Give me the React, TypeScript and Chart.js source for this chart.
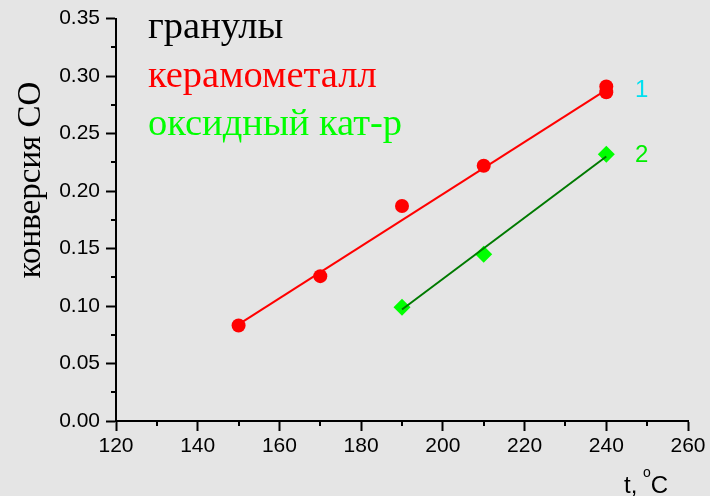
import React, { useEffect, useRef } from 'react';
import { Chart, registerables } from 'chart.js';
Chart.register(...registerables);

const xMajorTicks = [120, 140, 160, 180, 200, 220, 240, 260];
const xMinorTicks = [130, 150, 170, 190, 210, 230, 250];
const yMajorTicks = [0, 0.05, 0.1, 0.15, 0.2, 0.25, 0.3, 0.35];
const yMinorTicks = [0.025, 0.075, 0.125, 0.175, 0.225, 0.275, 0.325];

const ceramX = [150, 170, 190, 210, 240, 240];
const ceramY = [0.083, 0.126, 0.187, 0.222, 0.286, 0.291];
const oxideX = [190, 210, 240];
const oxideY = [0.099, 0.145, 0.232];
const ceramFitX = [150, 240];
const ceramFitY = [0.084, 0.288];
const oxideFitX = [190, 240];
const oxideFitY = [0.097, 0.23];

const legendLines = ['гранулы', 'керамометалл', 'оксидный кат-р'];
const legendColors = ['#000000', '#ff0000', '#00ff00'];
const yTitle = 'конверсия CO';
const seriesLabels = ['1', '2'];
const seriesLabelColors = ['#00e0f0', '#00ee00'];

const toPts = (xs: number[], ys: number[]) => xs.map((x, i) => ({ x, y: ys[i] }));

const SANS = '"Liberation Sans", Arial, sans-serif';
const SERIF = '"Liberation Serif", "Times New Roman", serif';

const decorPlugin = {
  id: 'decor',
  beforeDraw(chart: any) {
    const ctx = chart.ctx;
    ctx.save();
    ctx.fillStyle = '#e5e5e5';
    ctx.fillRect(0, 0, chart.width, chart.height);
    ctx.restore();
  },
  afterDraw(chart: any) {
    const ctx = chart.ctx;
    const xs = chart.scales.x;
    const ys = chart.scales.y;
    const area = chart.chartArea;
    ctx.save();
    ctx.strokeStyle = '#000';
    ctx.lineWidth = 2;
    ctx.beginPath();
    yMinorTicks.forEach((v) => {
      const py = Math.round(ys.getPixelForValue(v));
      ctx.moveTo(area.left - 5, py);
      ctx.lineTo(area.left, py);
    });
    xMinorTicks.forEach((v) => {
      const px = Math.round(xs.getPixelForValue(v));
      ctx.moveTo(px, area.bottom);
      ctx.lineTo(px, area.bottom + 5);
    });
    ctx.stroke();

    // legend-like texts
    ctx.font = `38.5px ${SERIF}`;
    ctx.textAlign = 'left';
    ctx.textBaseline = 'alphabetic';
    const baselines = [38, 87, 135];
    legendLines.forEach((t, i) => {
      ctx.fillStyle = legendColors[i];
      ctx.fillText(t, 148, baselines[i]);
    });

    // series labels
    ctx.font = `24px ${SANS}`;
    ctx.fillStyle = seriesLabelColors[0];
    ctx.fillText(seriesLabels[0], 635, 97);
    ctx.fillStyle = seriesLabelColors[1];
    ctx.fillText(seriesLabels[1], 635, 162);

    // y title
    ctx.save();
    ctx.translate(40, 180);
    ctx.rotate(-Math.PI / 2);
    ctx.font = `33px ${SERIF}`;
    ctx.fillStyle = '#000';
    ctx.textAlign = 'center';
    ctx.fillText(yTitle, 0, 0);
    ctx.restore();

    // x title "t, °C"
    ctx.fillStyle = '#000';
    ctx.font = `24px ${SANS}`;
    const p1 = 't, ';
    ctx.fillText(p1, 624, 493);
    const w1 = ctx.measureText(p1).width;
    ctx.font = `14px ${SANS}`;
    ctx.fillText('o', 624 + w1 - 1, 477);
    const w2 = ctx.measureText('o').width;
    ctx.font = `24px ${SANS}`;
    ctx.fillText('C', 624 + w1 + w2 - 1, 493);
    ctx.restore();
  },
};

export default function App() {
  const ref = useRef<HTMLCanvasElement>(null);
  useEffect(() => {
    if (!ref.current) return;
    const chart = new Chart(ref.current, {
      type: 'scatter',
      data: {
        datasets: [
          {
            data: toPts(oxideFitX, oxideFitY),
            showLine: true,
            borderColor: '#007a00',
            borderWidth: 2,
            pointRadius: 0,
            order: 0,
          },
          {
            data: toPts(ceramFitX, ceramFitY),
            showLine: true,
            borderColor: '#ff0000',
            borderWidth: 2,
            pointRadius: 0,
            order: 1,
          },
          {
            data: toPts(oxideX, oxideY),
            showLine: false,
            pointStyle: 'rectRot',
            pointRadius: 8.5,
            pointBackgroundColor: '#00ff00',
            pointBorderColor: '#00ff00',
            pointBorderWidth: 0,
            order: 2,
          },
          {
            data: toPts(ceramX, ceramY),
            showLine: false,
            pointStyle: 'circle',
            pointRadius: 7,
            pointBackgroundColor: '#ff0000',
            pointBorderColor: '#ff0000',
            pointBorderWidth: 0,
            order: 3,
          },
        ],
      },
      options: {
        responsive: false,
        animation: false,
        devicePixelRatio: 1,
        layout: { padding: { top: 18, right: 22, left: 0, bottom: 0 } },
        plugins: { legend: { display: false }, tooltip: { enabled: false } },
        scales: {
          x: {
            type: 'linear',
            min: 120,
            max: 260,
            afterBuildTicks: (s: any) => {
              s.ticks = xMajorTicks.map((v) => ({ value: v }));
            },
            afterFit: (s: any) => {
              s.height = 75;
            },
            ticks: {
              font: { family: SANS, size: 21 },
              color: '#000',
              padding: 3,
              maxRotation: 0,
              autoSkip: false,
              callback: (v: any) => String(v),
            },
            grid: { drawOnChartArea: false, color: '#000', tickLength: 10, tickWidth: 2 },
            border: { display: true, color: '#000', width: 2 },
          },
          y: {
            type: 'linear',
            min: 0,
            max: 0.35,
            afterBuildTicks: (s: any) => {
              s.ticks = yMajorTicks.map((v) => ({ value: v }));
            },
            afterFit: (s: any) => {
              s.width = 116;
            },
            ticks: {
              font: { family: SANS, size: 21 },
              color: '#000',
              padding: 6,
              autoSkip: false,
              callback: (v: any) => Number(v).toFixed(2),
            },
            grid: { drawOnChartArea: false, color: '#000', tickLength: 10, tickWidth: 2 },
            border: { display: true, color: '#000', width: 2 },
          },
        },
      },
      plugins: [decorPlugin],
    });
    return () => chart.destroy();
  }, []);
  return (
    <div style={{ position: 'fixed', left: 0, top: 0, width: 710, height: 496 }}>
      <canvas ref={ref} width={710} height={496} style={{ width: 710, height: 496, display: 'block' }} />
    </div>
  );
}
